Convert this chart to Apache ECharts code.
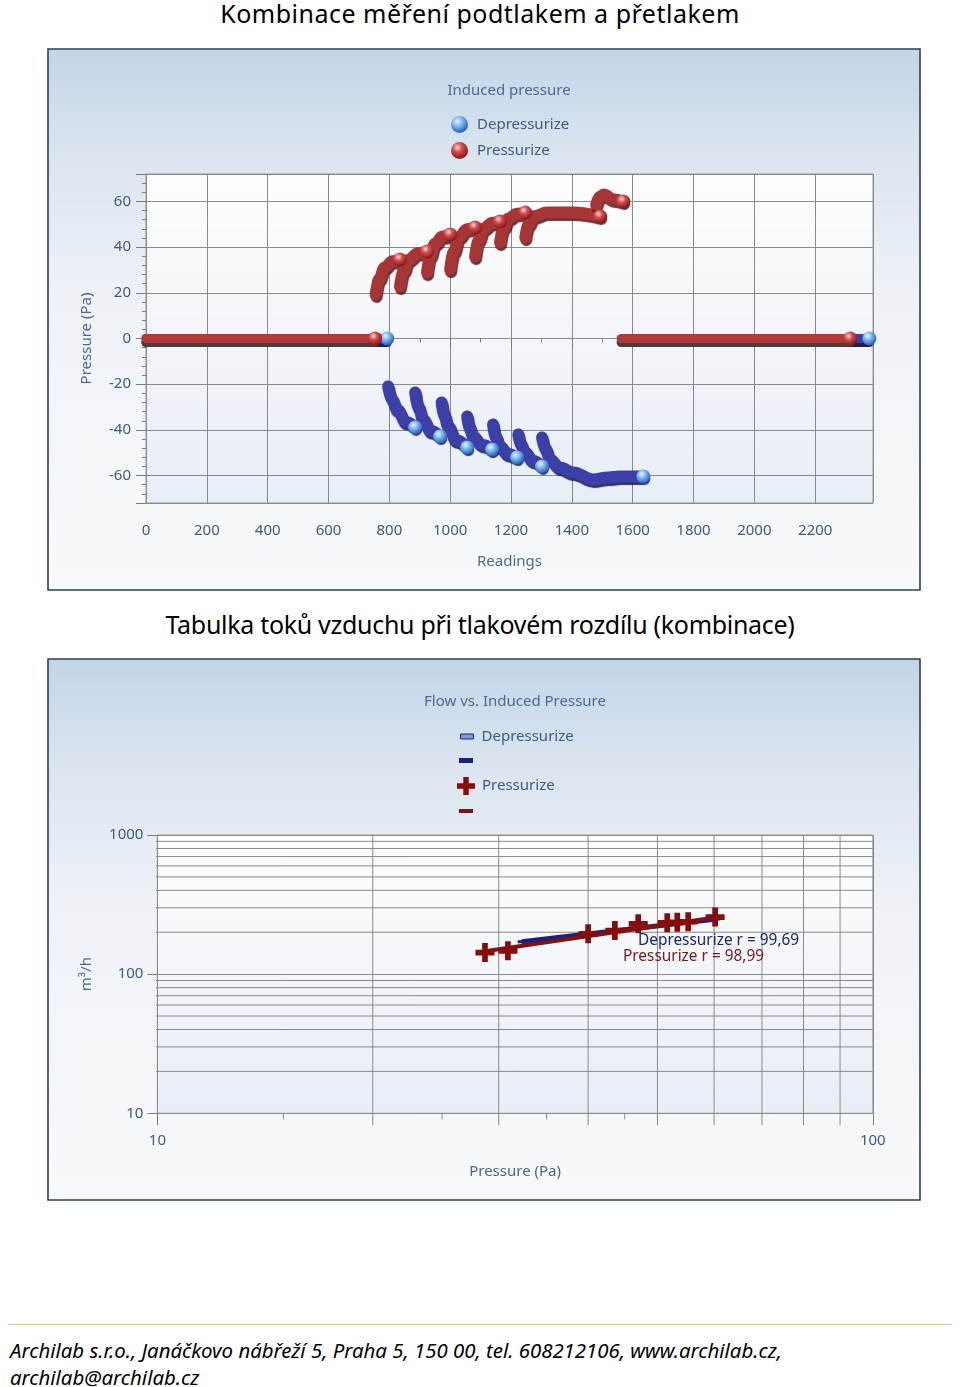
<!DOCTYPE html>
<html><head><meta charset="utf-8">
<script src="https://cdn.jsdelivr.net/npm/echarts@6/dist/echarts.min.js"></script>
<style>
html,body{margin:0;padding:0;background:#fff;}
body{width:960px;height:1387px;position:relative;overflow:hidden;font-family:'Noto Sans',sans-serif;}
.ttl{position:absolute;left:0;width:960px;text-align:center;color:#000;font-size:25px;line-height:28px;white-space:nowrap;}
#c1{position:absolute;left:47px;top:48px;width:875px;height:544px;}
#c2{position:absolute;left:47px;top:658px;width:875px;height:544px;}
.rule{position:absolute;left:8px;top:1324px;width:944px;height:1px;background:#dccb9f;}
.foot{position:absolute;left:10px;font-style:italic;font-size:20.4px;line-height:26px;color:#000;white-space:nowrap;}
</style></head>
<body>
<div class="ttl" style="top:-1px;letter-spacing:0.5px">Kombinace měření podtlakem a přetlakem</div>
<div id="c1"></div>
<div class="ttl" style="top:610px;letter-spacing:-0.3px">Tabulka toků vzduchu při tlakovém rozdílu (kombinace)</div>
<div id="c2"></div>
<div class="rule"></div>
<div class="foot" style="top:1337px">Archilab s.r.o., Janáčkovo nábřeží 5, Praha 5, 150 00, tel. 608212106, www.archilab.cz,</div>
<div class="foot" style="top:1364px">archilab@archilab.cz</div>
<script>
// ---------------- Chart 1: Induced pressure (Readings vs Pressure, Pa) ----------------
const readingsMax = 2390;
const pressureMin = -72, pressureMax = 72;
// zero-pressure stretches [reading, Pa]
const depZero = [ [[0,0],[793,0]], [[1640,0],[2378,0]] ];
const presZero = [ [[0,0],[753,0]], [[1562,0],[2315,0]] ];
// depressurize steps (negative pressure)
const depArcs = [
  [[796,-21],[809,-26.7],[826,-31.1],[855,-36.5],[885,-38.9]],
  [[885,-23.6],[896,-30],[911,-35.4],[937,-40.5],[967,-42.9]],
  [[972,-28],[981,-33.5],[993,-38.5],[1020,-44.5],[1056,-47.7]],
  [[1056,-34.1],[1064,-39],[1076,-42.9],[1105,-46.5],[1138,-48.6]],
  [[1141,-37.6],[1150,-43],[1164,-47.3],[1190,-50.5],[1220,-52.1]],
  [[1224,-42],[1233,-46.5],[1247,-49.9],[1272,-53.5],[1302,-56]],
  [[1302,-43.3],[1314,-48.5],[1329,-53],[1360,-56.5],[1404,-58.6],[1470,-61.7],[1520,-60.8],[1559,-60.4],[1635,-60.4]]
];
// pressurize steps (positive pressure)
const presArcs = [
  [[755,19.3],[767,26],[784,31],[810,33.8],[835,34.6]],
  [[835,22.8],[847,29.5],[864,34.5],[894,37.3],[924,38.1]],
  [[924,28.9],[935,36],[950,41.5],[975,44.6],[1000,45.5]],
  [[1000,30.2],[1012,38],[1030,44.5],[1055,47.8],[1082,48.6]],
  [[1082,35.9],[1094,43],[1110,48],[1137,50.6],[1164,51.2]],
  [[1164,42],[1176,48.5],[1192,52.5],[1220,54.6],[1247,55.1]],
  [[1247,44.2],[1258,50],[1275,53.5],[1319,55.1],[1404,55.1],[1493,53.4]],
  [[1480,58.5],[1492,62],[1505,63],[1536,61],[1569,60]]
];

// ---------------- Chart 2: Flow vs. Induced Pressure (log-log) ----------------
const presFlowX = [28.7, 30.9, 40.0, 43.6, 47.0, 51.6, 53.3, 55.2, 60.2];
const presFlowY = [143, 147, 195, 206, 230, 234, 236, 238, 257];
const depFlowX = [32.3, 36.5, 40.2, 43.9, 47.8, 52.1, 56.0, 60.4];
const depFlowY = [171, 184, 195, 205, 216, 228, 238, 249];
const depFit = [[32.3,171],[60.5,249]];
const presFit = [[28.7,146],[60.2,255]];
const gridX = [20,30,40,50,60,70,80,90];
const gridY = [20,30,40,50,60,70,80,90,200,300,400,500,600,700,800,900];
const minorX = [15,25,35,45];

const FONT = 'Noto Sans';
const labelColor = '#3e5b7b';
const gridColor = '#8a8a8a';
const tickColor = '#7a7a7a';
const plainNum = v => String(v);

function panelRect(){
  return {type:'rect', z:-100, silent:true,
    shape:{x:1,y:1,width:872,height:541},
    style:{fill:new echarts.graphic.LinearGradient(0,0,0,1,[
      {offset:0,color:'#c3d4e9'},{offset:0.2,color:'#dbe5f0'},{offset:0.45,color:'#eef2f7'},{offset:1,color:'#f8f9fb'}]),
      stroke:'#2e4053', lineWidth:1.6}};
}
function plotBg(){
  return new echarts.graphic.LinearGradient(0,0,0,1,[{offset:0,color:'#fdfdfe'},{offset:1,color:'#e8eef6'}]);
}
const blueBall = () => new echarts.graphic.RadialGradient(0.38,0.32,0.68,[
  {offset:0,color:'#eaf5ff'},{offset:0.4,color:'#80bdf2'},{offset:1,color:'#2a5cbc'}]);
const redBall = () => new echarts.graphic.RadialGradient(0.38,0.32,0.68,[
  {offset:0,color:'#ffd6d6'},{offset:0.4,color:'#d25050'},{offset:1,color:'#861616'}]);

const lastPoints = segs => segs.map(s => s[s.length-1]);

function tubeSeries(name, segs, color, shadow, width, z){
  return segs.map(seg => ({
    type:'line', name, data:seg, z, showSymbol:false, symbol:'none',
    smooth:0.4, smoothMonotone:'x', silent:true,
    lineStyle:{color, width, cap:'round', join:'round', shadowColor:shadow, shadowBlur:1, shadowOffsetX:1, shadowOffsetY:2.5}
  }));
}
function zeroSeries(name, segs, color, shadow, z){
  return segs.map(seg => ({
    type:'line', name, data:seg, z, showSymbol:false, symbol:'none', silent:true,
    lineStyle:{color, width:9, cap:'round', shadowColor:shadow, shadowBlur:0, shadowOffsetY:4}
  }));
}

const c1 = echarts.init(document.getElementById('c1'));
c1.setOption({
  animation:false,
  textStyle:{fontFamily:FONT},
  graphic:[panelRect()],
  title:{text:'Induced pressure', left:462, top:35, textAlign:'center', padding:0,
    textStyle:{fontSize:15, fontWeight:'normal', color:'#4b6b8d', fontFamily:FONT}},
  legend:{orient:'vertical', left:404, top:68, padding:0, itemWidth:17, itemHeight:17, itemGap:9,
    textStyle:{fontSize:15, color:'#3d5c7d', fontFamily:FONT, padding:[0,0,0,4]},
    data:[{name:'Depressurize', icon:'circle', itemStyle:{color:blueBall(), opacity:1}},
          {name:'Pressurize', icon:'circle', itemStyle:{color:redBall(), opacity:1}}]},
  grid:{left:99, top:126, width:727, height:329, show:true, backgroundColor:plotBg(),
    borderColor:'#9b9b9b', borderWidth:1, containLabel:false},
  xAxis:{type:'value', min:0, max:readingsMax, interval:200,
    name:'Readings', nameLocation:'middle', nameGap:51, nameMoveOverlap:false,
    nameTextStyle:{fontSize:15, color:'#4b6b8d'},
    axisLine:{show:false},
    axisTick:{show:true, length:10, lineStyle:{color:tickColor}},
    minorTick:{show:true, splitNumber:2, length:4, lineStyle:{color:tickColor}},
    splitLine:{show:true, lineStyle:{color:gridColor, width:1}},
    axisLabel:{fontSize:15, color:labelColor, margin:20, showMaxLabel:false, formatter:plainNum}},
  yAxis:{type:'value', min:pressureMin, max:pressureMax, splitNumber:7,
    name:'Pressure (Pa)', nameLocation:'middle', nameGap:52, nameMoveOverlap:false,
    nameTextStyle:{fontSize:15, color:'#4b6b8d'},
    axisLine:{show:false},
    axisTick:{show:true, length:10, lineStyle:{color:tickColor}},
    minorTick:{show:true, splitNumber:5, length:4, lineStyle:{color:tickColor}},
    splitLine:{show:true, lineStyle:{color:gridColor, width:1}},
    axisLabel:{fontSize:15, color:labelColor, margin:15, showMinLabel:false, showMaxLabel:false, formatter:plainNum}},
  series:[
    {type:'scatter', name:'Depressurize', z:5, silent:true, symbolSize:14,
      itemStyle:{color:blueBall(), opacity:1}, data:lastPoints(depZero.concat(depArcs))},
    {type:'scatter', name:'Pressurize', z:5, silent:true, symbolSize:14,
      itemStyle:{color:redBall(), opacity:1}, data:lastPoints(presZero.concat(presArcs))},
    ...zeroSeries('Depressurize', depZero, '#3b3fa6', '#1d1f55', 2),
    ...tubeSeries('Depressurize', depArcs, '#3c3fa8', 'rgba(18,18,60,0.85)', 12, 3),
    ...zeroSeries('Pressurize', presZero, '#ae3a3a', '#4b3b3b', 3),
    ...tubeSeries('Pressurize', presArcs, '#a83535', 'rgba(70,20,20,0.85)', 12, 3)
  ]
});

// ---------------- chart 2 ----------------
const tickLowY = 8.19, tickLowX = 9.683, minorLowY = 9.05;
const gridSegs = [];
gridX.forEach(v => gridSegs.push([[v,tickLowY],[v,1000]]));
gridY.forEach(v => gridSegs.push([[tickLowX,v],[100,v]]));
minorX.forEach(v => gridSegs.push([[v,10],[v,minorLowY]]));
const gridSeries = gridSegs.map(seg => ({
  type:'line', name:'_grid', data:seg, z:1, clip:false, silent:true, showSymbol:false, symbol:'none',
  lineStyle:{color:gridColor, width:1}
}));

const crossPath = 'path://M35,0H65V35H100V65H65V100H35V65H0V35H35Z';
const c2 = echarts.init(document.getElementById('c2'));
c2.setOption({
  animation:false,
  textStyle:{fontFamily:FONT},
  graphic:[panelRect(),
    {type:'text', x:591, y:283, z:10, silent:true,
      style:{text:'Depressurize r = 99,69', fill:'#1d2470', font:'15.4px "Noto Sans"', verticalAlign:'middle'}},
    {type:'text', x:576, y:299, z:10, silent:true,
      style:{text:'Pressurize r = 98,99', fill:'#7a1818', font:'15.4px "Noto Sans"', verticalAlign:'middle'}}],
  title:{text:'Flow vs. Induced Pressure', left:468, top:36, textAlign:'center', padding:0,
    textStyle:{fontSize:15, fontWeight:'normal', color:'#4b6b8d', fontFamily:FONT}},
  legend:[
    {left:413, top:71, padding:0, itemWidth:13, itemHeight:5, textStyle:{fontSize:15, color:'#3d5c7d', padding:[0,0,0,3]},
      data:[{name:'Depressurize', icon:'rect', itemStyle:{color:'#7f98da', borderColor:'#1f2a80', borderWidth:1, opacity:1}}]},
    {left:412, top:100, padding:0, itemWidth:14, itemHeight:5, formatter:()=>'',
      data:[{name:' ', icon:'rect', itemStyle:{color:'#1f1f78'}}]},
    {left:410, top:119, padding:0, itemWidth:18, itemHeight:18, textStyle:{fontSize:15, color:'#3d5c7d', padding:[0,0,0,2]},
      data:[{name:'Pressurize', icon:crossPath, itemStyle:{color:'#870c0c', opacity:1}}]},
    {left:412, top:151, padding:0, itemWidth:14, itemHeight:4, formatter:()=>'',
      data:[{name:'  ', icon:'rect', itemStyle:{color:'#7d1414'}}]}
  ],
  grid:{left:110.4, top:177, width:715.4, height:278.3, show:true, backgroundColor:plotBg(),
    borderColor:'#9b9b9b', borderWidth:1, containLabel:false},
  xAxis:{type:'log', logBase:10, min:10, max:100,
    name:'Pressure (Pa)', nameLocation:'middle', nameGap:51, nameMoveOverlap:false,
    nameTextStyle:{fontSize:15, color:'#4b6b8d'},
    axisLine:{show:false},
    axisTick:{show:true, length:12, lineStyle:{color:tickColor}},
    splitLine:{show:true, lineStyle:{color:gridColor}},
    axisLabel:{fontSize:15, color:labelColor, margin:20, formatter:plainNum}},
  yAxis:{type:'log', logBase:10, min:10, max:1000,
    name:'m³/h', nameLocation:'middle', nameGap:63, nameMoveOverlap:false,
    nameTextStyle:{fontSize:15, color:'#4b6b8d'},
    axisLine:{show:false},
    axisTick:{show:true, length:10, lineStyle:{color:tickColor}},
    splitLine:{show:true, lineStyle:{color:gridColor}},
    axisLabel:{fontSize:15, color:labelColor, margin:14, formatter:plainNum}},
  series:[
    {type:'scatter', name:'Depressurize', z:2, silent:true, symbol:'rect', symbolSize:[8,3],
      itemStyle:{color:'#1f1f78', opacity:1}, data:depFlowX.map((x,i)=>[x,depFlowY[i]])},
    {type:'line', name:' ', z:2, silent:true, showSymbol:false, symbol:'none', data:depFit,
      lineStyle:{color:'#1f1f78', width:5}},
    {type:'line', name:'  ', z:3, silent:true, showSymbol:false, symbol:'none', data:presFit,
      lineStyle:{color:'#7d1414', width:4}},
    {type:'scatter', name:'Pressurize', z:4, silent:true, symbol:crossPath, symbolSize:19,
      itemStyle:{color:'#870c0c', opacity:1}, data:presFlowX.map((x,i)=>[x,presFlowY[i]])},
    ...gridSeries
  ]
});
</script>
</body></html>
